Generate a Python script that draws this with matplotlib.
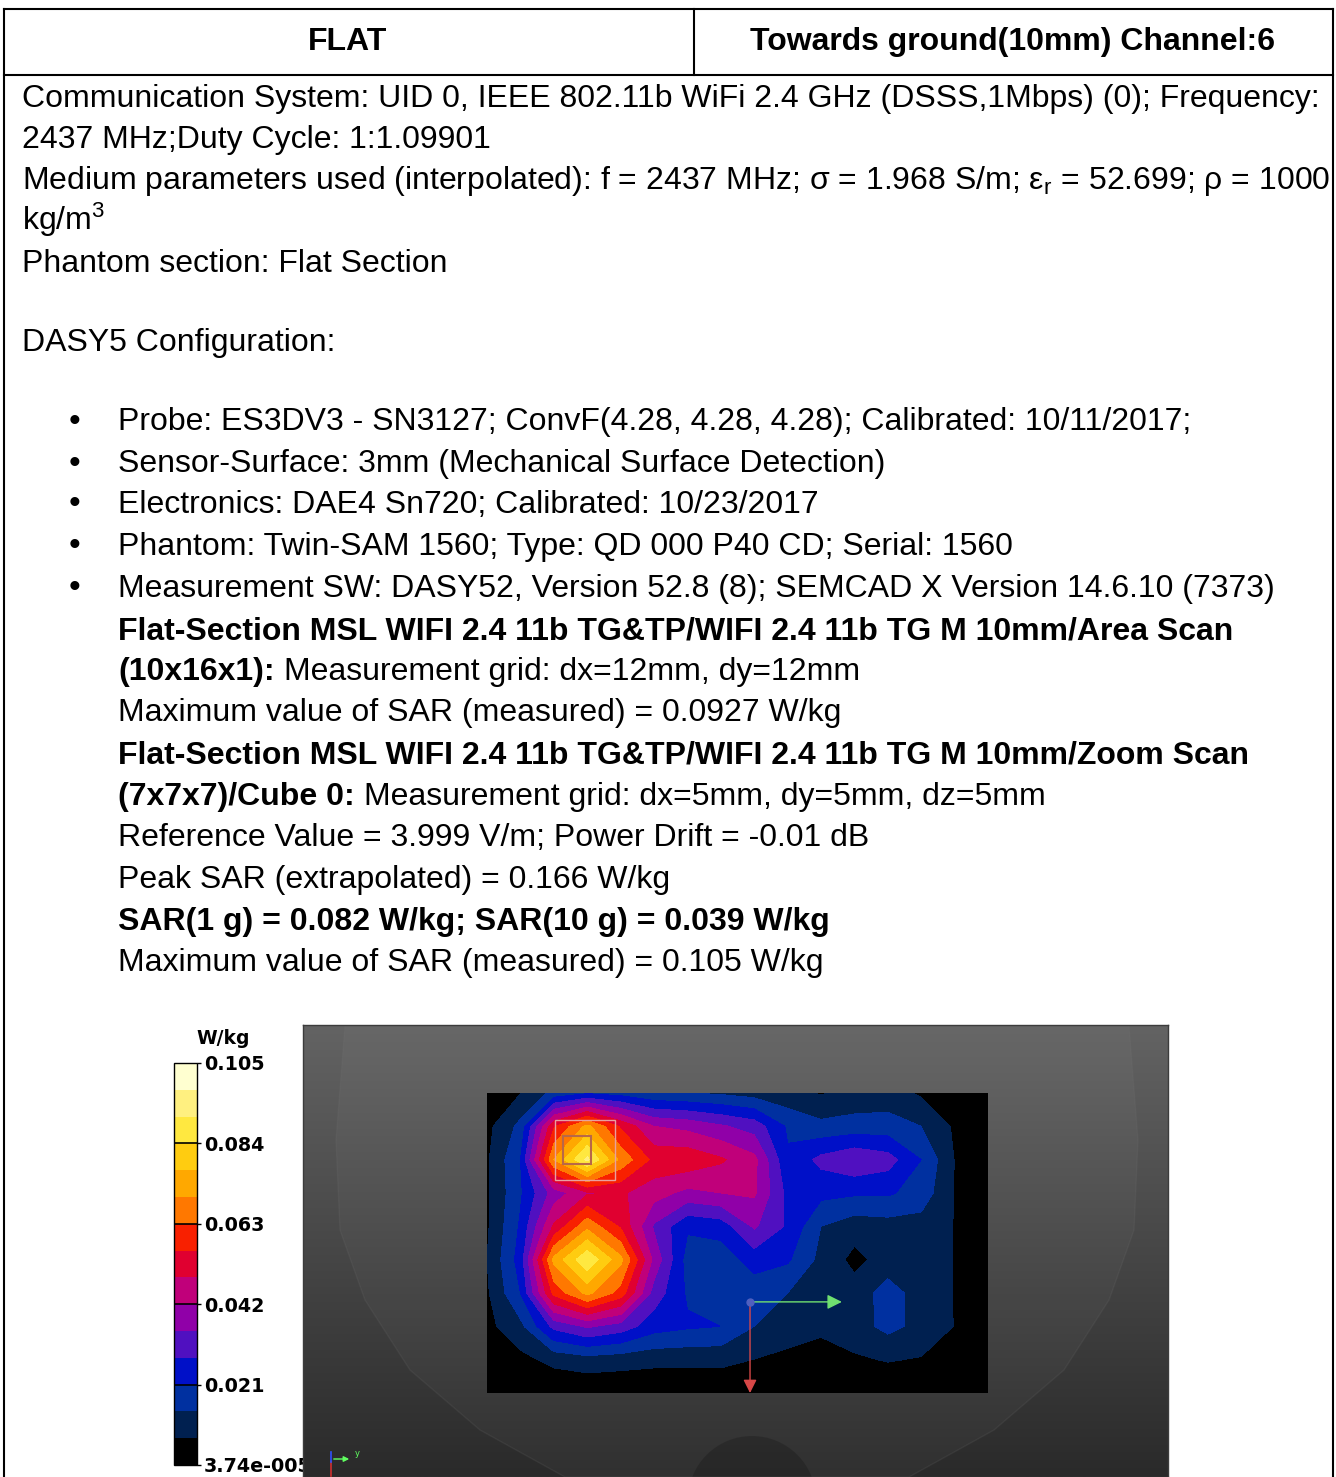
import numpy as np
import matplotlib
matplotlib.use('Agg')
import matplotlib.pyplot as plt
from matplotlib.colors import LinearSegmentedColormap
from matplotlib.patches import Rectangle, Polygon, Circle

plt.rcParams['font.family'] = ['Liberation Sans', 'DejaVu Sans']
plt.rcParams['mathtext.fontset'] = 'custom'
plt.rcParams['mathtext.rm'] = 'Liberation Sans'
plt.rcParams['mathtext.it'] = 'Liberation Sans:italic'
plt.rcParams['mathtext.bf'] = 'Liberation Sans:bold'

W, H = 1336, 1477

header_left = 'FLAT'
header_right = 'Towards ground(10mm) Channel:6'

# colour scale of the SAR plot (W/kg)
sar_min = 3.74e-5
sar_max = 0.105
cbar_ticks = [sar_min, 0.021, 0.042, 0.063, 0.084, sar_max]
cbar_labels = ['3.74e-005', '0.021', '0.042', '0.063', '0.084', '0.105']
band_colors = ['#000000', '#002050', '#0030a0', '#0010c8', '#5010c0',
               '#9000a8', '#c0007a', '#e00030', '#f82000', '#ff7800',
               '#ffa800', '#ffcc10', '#ffe840', '#fff080', '#ffffd0']

# area scan 10x16x1, dx = dy = 12 mm, SAR in W/kg (rows = y, columns = x)
grid_step = 12.0
area_scan = np.array([
    [0.003, 0.0068, 0.016, 0.020, 0.018, 0.015, 0.014, 0.013, 0.011, 0.009, 0.0065, 0.009, 0.010, 0.006, 0.004, 0.002],
    [0.005, 0.016, 0.055, 0.072, 0.055, 0.042, 0.040, 0.036, 0.032, 0.020, 0.016, 0.017, 0.017, 0.014, 0.006, 0.002],
    [0.006, 0.021, 0.070, 0.0927, 0.068, 0.054, 0.054, 0.050, 0.044, 0.022, 0.030, 0.034, 0.031, 0.021, 0.0068, 0.002],
    [0.006, 0.020, 0.038, 0.048, 0.050, 0.045, 0.040, 0.042, 0.043, 0.026, 0.023, 0.022, 0.022, 0.018, 0.0068, 0.002],
    [0.006, 0.022, 0.050, 0.068, 0.055, 0.034, 0.022, 0.024, 0.036, 0.027, 0.014, 0.010, 0.011, 0.011, 0.0068, 0.002],
    [0.007, 0.024, 0.072, 0.090, 0.072, 0.040, 0.018, 0.017, 0.024, 0.022, 0.012, 0.005, 0.010, 0.011, 0.0068, 0.002],
    [0.006, 0.021, 0.058, 0.072, 0.060, 0.032, 0.020, 0.019, 0.017, 0.014, 0.011, 0.010, 0.017, 0.011, 0.0068, 0.002],
    [0.005, 0.012, 0.030, 0.036, 0.032, 0.024, 0.022, 0.021, 0.014, 0.011, 0.0085, 0.011, 0.016, 0.012, 0.0068, 0.002],
    [0.003, 0.005, 0.009, 0.011, 0.010, 0.009, 0.009, 0.009, 0.0069, 0.005, 0.004, 0.006, 0.0075, 0.0065, 0.004, 0.002],
    [0.001, 0.001, 0.001, 0.001, 0.001, 0.001, 0.001, 0.001, 0.001, 0.001, 0.001, 0.001, 0.001, 0.001, 0.001, 0.001],
])

# zoom scan cube outlines and the device reference axes (mm in the scan plane)
cube_outer = (24.5, 9.7, 21.6)
cube_inner = (27.3, 15.5, 10.1)
ref_origin = (94.5, 75.2)

fig = plt.figure(figsize=(W / 100, H / 100), dpi=100)
page = fig.add_axes([0, 0, 1, 1])
page.set_xlim(0, W)
page.set_ylim(H, 0)
page.axis('off')


def px_axes(x0, y0, x1, y1, **kw):
    return fig.add_axes([x0 / W, 1 - y1 / H, (x1 - x0) / W, (y1 - y0) / H], **kw)


# table frame
lw = 1.5
page.plot([3.5, 1332.5], [8.5, 8.5], color='black', lw=lw)
page.plot([3.5, 1332.5], [74.5, 74.5], color='black', lw=lw)
page.plot([3.5, 3.5], [8.5, H], color='black', lw=lw)
page.plot([1332.5, 1332.5], [8.5, H], color='black', lw=lw)
page.plot([693.5, 693.5], [8.5, 74.5], color='black', lw=lw)

FS = 23
page.text(348, 42, header_left, fontsize=FS, fontweight='bold', ha='center', va='center')
page.text(1013, 42, header_right, fontsize=FS, fontweight='bold', ha='center', va='center')

renderer = fig.canvas.get_renderer()


def line(x, y, s, bold=False):
    return page.text(x, y + 11, s, fontsize=FS, fontweight='bold' if bold else 'normal',
                     ha='left', va='baseline')


def mixed(x, y, bold_part, rest):
    t = line(x, y, bold_part, bold=True)
    bb = t.get_window_extent(renderer)
    x_end = page.transData.inverted().transform((bb.x1, bb.y0))[0]
    line(x_end + 9, y, rest)


line(22, 96, 'Communication System: UID 0, IEEE 802.11b WiFi 2.4 GHz (DSSS,1Mbps) (0); Frequency:')
line(22, 137, '2437 MHz;Duty Cycle: 1:1.09901')
line(22, 178, 'Medium parameters used (interpolated): f = 2437 MHz; σ = 1.968 S/m; ε$_\\mathrm{r}$ = 52.699; ρ = 1000')
line(22, 219, 'kg/m$^\\mathrm{3}$')
line(22, 261, 'Phantom section: Flat Section')
line(22, 340, 'DASY5 Configuration:')

bullets = [
    'Probe: ES3DV3 - SN3127; ConvF(4.28, 4.28, 4.28); Calibrated: 10/11/2017;',
    'Sensor-Surface: 3mm (Mechanical Surface Detection)',
    'Electronics: DAE4 Sn720; Calibrated: 10/23/2017',
    'Phantom: Twin-SAM 1560; Type: QD 000 P40 CD; Serial: 1560',
    'Measurement SW: DASY52, Version 52.8 (8); SEMCAD X Version 14.6.10 (7373)',
]
for yb, s in zip([419, 461, 502, 544, 586], bullets):
    page.text(75, yb + 3, '•', fontsize=24, ha='center', va='center')
    line(118, yb, s)

line(118, 628, 'Flat-Section MSL WIFI 2.4 11b TG&TP/WIFI 2.4 11b TG M 10mm/Area Scan', bold=True)
mixed(118, 669, '(10x16x1):', 'Measurement grid: dx=12mm, dy=12mm')
line(118, 710, 'Maximum value of SAR (measured) = 0.0927 W/kg')
line(118, 752, 'Flat-Section MSL WIFI 2.4 11b TG&TP/WIFI 2.4 11b TG M 10mm/Zoom Scan', bold=True)
mixed(118, 794, '(7x7x7)/Cube 0:', 'Measurement grid: dx=5mm, dy=5mm, dz=5mm')
line(118, 835, 'Reference Value = 3.999 V/m; Power Drift = -0.01 dB')
line(118, 877, 'Peak SAR (extrapolated) = 0.166 W/kg')
line(118, 919, 'SAR(1 g) = 0.082 W/kg; SAR(10 g) = 0.039 W/kg', bold=True)
line(118, 960, 'Maximum value of SAR (measured) = 0.105 W/kg')

# --- viewer background with the phantom silhouette ---
panel = px_axes(303, 1025, 1168, 1477, zorder=5)
bg = LinearSegmentedColormap.from_list('bg', ['#636363', '#2a2a2a'])
panel.imshow(np.linspace(0, 1, 256)[:, None], cmap=bg, aspect='auto',
             extent=[303, 1168, 1477, 1025], interpolation='bilinear')
left_edge = [(345, 1025), (336, 1140), (340, 1230), (365, 1300), (410, 1370), (480, 1430), (565, 1477)]
outline = left_edge + [(1474 - x, y) for x, y in reversed(left_edge)]
panel.add_patch(Polygon(outline, closed=True, facecolor='white', alpha=0.03, edgecolor='none'))
panel.add_patch(Polygon(outline, closed=True, facecolor='none', edgecolor='#777777', alpha=0.15, lw=1))
panel.add_patch(Circle((752, 1500), 64, facecolor='black', alpha=0.18, edgecolor='none'))
# small orientation triad
panel.plot([331, 331], [1462, 1477], color='#d03030', lw=1.2)
panel.plot([331, 331], [1462, 1452], color='#3050ff', lw=1.2)
panel.annotate('', xy=(352, 1459), xytext=(331, 1459),
               arrowprops=dict(arrowstyle='-|>', color='#60ff60', lw=1, mutation_scale=8))
panel.text(355, 1453, 'y', color='#60ff60', fontsize=6, fontfamily='DejaVu Sans', va='center')
panel.set_xlim(303, 1168)
panel.set_ylim(1477, 1025)
panel.set_xticks([])
panel.set_yticks([])
for sp in panel.spines.values():
    sp.set_color('#3c3c3c')
    sp.set_linewidth(1)

# --- area scan contour ---
scan = px_axes(487, 1093, 988, 1393, zorder=6)
scan.set_facecolor('black')
ny, nx = area_scan.shape
xs = np.arange(nx) * grid_step
ys = np.arange(ny) * grid_step
levels = np.linspace(sar_min, sar_max, len(band_colors) + 1)
cs = scan.contourf(xs, ys, area_scan, levels=levels, colors=band_colors)
scan.set_xlim(xs[0], xs[-1])
scan.set_ylim(ys[-1], ys[0])
scan.axis('off')

ox, oy, s = cube_outer
scan.add_patch(Rectangle((ox, oy), s, s, facecolor='none', edgecolor='#e8a0a0', lw=1))
ox, oy, s = cube_inner
scan.add_patch(Rectangle((ox, oy), s, s, facecolor='none', edgecolor='#b86848', lw=1.5))

rx, ry = ref_origin
scan.annotate('', xy=(rx + 33, ry), xytext=(rx, ry),
              arrowprops=dict(arrowstyle='-|>', color='#70e070', lw=1, mutation_scale=22,
                              shrinkA=0, shrinkB=0))
scan.annotate('', xy=(rx, ys[-1]), xytext=(rx, ry),
              arrowprops=dict(arrowstyle='-|>', color='#d84848', lw=1, mutation_scale=20,
                              shrinkA=0, shrinkB=0))
scan.plot(rx, ry, 'o', color='#5060c0', ms=5, zorder=5)

# --- colour bar ---
cax = px_axes(174, 1063, 197, 1465)
cb = fig.colorbar(cs, cax=cax, ticks=cbar_ticks, drawedges=False)
cb.outline.set_edgecolor('black')
cb.outline.set_linewidth(1)
cax.set_ylim(sar_min, sar_max)
cax.yaxis.set_ticks_position('right')
cax.set_yticklabels(cbar_labels, fontfamily='DejaVu Sans', fontweight='bold', fontsize=13.8)
cax.tick_params(axis='y', length=3, width=1, pad=2, color='black')
for v in cbar_ticks[1:-1]:
    cax.axhline(v, color='black', lw=1.2)
page.text(196, 1038, 'W/kg', fontsize=13.5, fontfamily='DejaVu Sans', fontweight='bold',
          ha='left', va='center')

fig.savefig('out.png', dpi=100)
